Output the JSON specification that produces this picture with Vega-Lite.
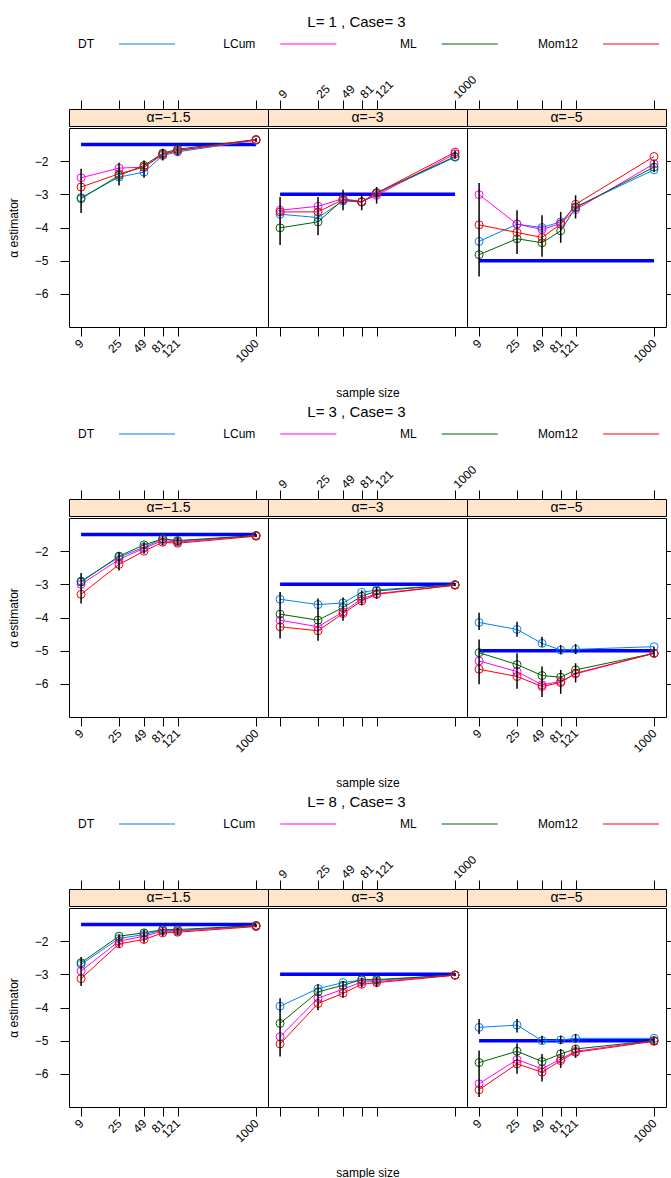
{
"$schema": "https://vega.github.io/schema/vega-lite/v6.json",
"padding": {"left": 6, "top": 15, "right": 0, "bottom": 0},
"background": "white",
"config": {
 "font": "Liberation Sans",
 "view": {"stroke": "#000", "strokeWidth": 1},
 "axis": {"labelFontSize": 12, "labelColor": "#000", "tickColor": "#000", "tickSize": 9, "titleFontSize": 12, "titleFontWeight": "normal", "titleColor": "#000", "grid": false, "domain": false, "labelFont": "Liberation Sans", "titleFont": "Liberation Sans", "labelOverlap": false, "labelFlush": false},
 "text": {"font": "Liberation Sans", "fontSize": 12, "color": "#000"},
 "title": {"font": "Liberation Sans", "fontSize": 15, "fontWeight": "normal", "color": "#000"}
},
"datasets": {
 "ns": [{"n":9},{"n":25},{"n":49},{"n":81},{"n":121},{"n":1000}],
 "leg": [{"m":"DT"},{"m":"LCum"},{"m":"ML"},{"m":"Mom12"}],
 "t": [{"a":-1.5,"n1":9,"n2":1000},{"a":-3,"n1":9,"n2":1000},{"a":-5,"n1":9,"n2":1000}],
 "d": [
{"b":1,"a":-1.5,"m":"DT","n":9,"v":-3.10},{"b":1,"a":-1.5,"m":"DT","n":25,"v":-2.48},{"b":1,"a":-1.5,"m":"DT","n":49,"v":-2.33},{"b":1,"a":-1.5,"m":"DT","n":81,"v":-1.83},{"b":1,"a":-1.5,"m":"DT","n":121,"v":-1.72},{"b":1,"a":-1.5,"m":"DT","n":1000,"v":-1.37},
{"b":1,"a":-1.5,"m":"LCum","n":9,"v":-2.50},{"b":1,"a":-1.5,"m":"LCum","n":25,"v":-2.21},{"b":1,"a":-1.5,"m":"LCum","n":49,"v":-2.18},{"b":1,"a":-1.5,"m":"LCum","n":81,"v":-1.78},{"b":1,"a":-1.5,"m":"LCum","n":121,"v":-1.68},{"b":1,"a":-1.5,"m":"LCum","n":1000,"v":-1.36},
{"b":1,"a":-1.5,"m":"ML","n":9,"v":-3.13},{"b":1,"a":-1.5,"m":"ML","n":25,"v":-2.43},{"b":1,"a":-1.5,"m":"ML","n":49,"v":-2.13},{"b":1,"a":-1.5,"m":"ML","n":81,"v":-1.76},{"b":1,"a":-1.5,"m":"ML","n":121,"v":-1.64},{"b":1,"a":-1.5,"m":"ML","n":1000,"v":-1.35},
{"b":1,"a":-1.5,"m":"Mom12","n":9,"v":-2.78},{"b":1,"a":-1.5,"m":"Mom12","n":25,"v":-2.38},{"b":1,"a":-1.5,"m":"Mom12","n":49,"v":-2.18},{"b":1,"a":-1.5,"m":"Mom12","n":81,"v":-1.80},{"b":1,"a":-1.5,"m":"Mom12","n":121,"v":-1.68},{"b":1,"a":-1.5,"m":"Mom12","n":1000,"v":-1.35},
{"b":1,"a":-3,"m":"DT","n":9,"v":-3.60},{"b":1,"a":-3,"m":"DT","n":25,"v":-3.70},{"b":1,"a":-3,"m":"DT","n":49,"v":-3.20},{"b":1,"a":-3,"m":"DT","n":81,"v":-3.23},{"b":1,"a":-3,"m":"DT","n":121,"v":-2.98},{"b":1,"a":-3,"m":"DT","n":1000,"v":-1.88},
{"b":1,"a":-3,"m":"LCum","n":9,"v":-3.48},{"b":1,"a":-3,"m":"LCum","n":25,"v":-3.36},{"b":1,"a":-3,"m":"LCum","n":49,"v":-3.13},{"b":1,"a":-3,"m":"LCum","n":81,"v":-3.22},{"b":1,"a":-3,"m":"LCum","n":121,"v":-3.03},{"b":1,"a":-3,"m":"LCum","n":1000,"v":-1.78},
{"b":1,"a":-3,"m":"ML","n":9,"v":-4.01},{"b":1,"a":-3,"m":"ML","n":25,"v":-3.83},{"b":1,"a":-3,"m":"ML","n":49,"v":-3.16},{"b":1,"a":-3,"m":"ML","n":81,"v":-3.23},{"b":1,"a":-3,"m":"ML","n":121,"v":-2.95},{"b":1,"a":-3,"m":"ML","n":1000,"v":-1.86},
{"b":1,"a":-3,"m":"Mom12","n":9,"v":-3.53},{"b":1,"a":-3,"m":"Mom12","n":25,"v":-3.53},{"b":1,"a":-3,"m":"Mom12","n":49,"v":-3.16},{"b":1,"a":-3,"m":"Mom12","n":81,"v":-3.23},{"b":1,"a":-3,"m":"Mom12","n":121,"v":-2.96},{"b":1,"a":-3,"m":"Mom12","n":1000,"v":-1.73},
{"b":1,"a":-5,"m":"DT","n":9,"v":-4.42},{"b":1,"a":-5,"m":"DT","n":25,"v":-3.90},{"b":1,"a":-5,"m":"DT","n":49,"v":-4.00},{"b":1,"a":-5,"m":"DT","n":81,"v":-3.83},{"b":1,"a":-5,"m":"DT","n":121,"v":-3.38},{"b":1,"a":-5,"m":"DT","n":1000,"v":-2.26},
{"b":1,"a":-5,"m":"LCum","n":9,"v":-3.01},{"b":1,"a":-5,"m":"LCum","n":25,"v":-3.90},{"b":1,"a":-5,"m":"LCum","n":49,"v":-4.06},{"b":1,"a":-5,"m":"LCum","n":81,"v":-3.88},{"b":1,"a":-5,"m":"LCum","n":121,"v":-3.46},{"b":1,"a":-5,"m":"LCum","n":1000,"v":-2.08},
{"b":1,"a":-5,"m":"ML","n":9,"v":-4.82},{"b":1,"a":-5,"m":"ML","n":25,"v":-4.34},{"b":1,"a":-5,"m":"ML","n":49,"v":-4.46},{"b":1,"a":-5,"m":"ML","n":81,"v":-4.10},{"b":1,"a":-5,"m":"ML","n":121,"v":-3.40},{"b":1,"a":-5,"m":"ML","n":1000,"v":-2.18},
{"b":1,"a":-5,"m":"Mom12","n":9,"v":-3.92},{"b":1,"a":-5,"m":"Mom12","n":25,"v":-4.15},{"b":1,"a":-5,"m":"Mom12","n":49,"v":-4.30},{"b":1,"a":-5,"m":"Mom12","n":81,"v":-3.90},{"b":1,"a":-5,"m":"Mom12","n":121,"v":-3.30},{"b":1,"a":-5,"m":"Mom12","n":1000,"v":-1.86},
{"b":2,"a":-1.5,"m":"DT","n":9,"v":-2.90},{"b":2,"a":-1.5,"m":"DT","n":25,"v":-2.18},{"b":2,"a":-1.5,"m":"DT","n":49,"v":-1.88},{"b":2,"a":-1.5,"m":"DT","n":81,"v":-1.63},{"b":2,"a":-1.5,"m":"DT","n":121,"v":-1.70},{"b":2,"a":-1.5,"m":"DT","n":1000,"v":-1.53},
{"b":2,"a":-1.5,"m":"LCum","n":9,"v":-3.00},{"b":2,"a":-1.5,"m":"LCum","n":25,"v":-2.25},{"b":2,"a":-1.5,"m":"LCum","n":49,"v":-1.91},{"b":2,"a":-1.5,"m":"LCum","n":81,"v":-1.68},{"b":2,"a":-1.5,"m":"LCum","n":121,"v":-1.73},{"b":2,"a":-1.5,"m":"LCum","n":1000,"v":-1.53},
{"b":2,"a":-1.5,"m":"ML","n":9,"v":-2.93},{"b":2,"a":-1.5,"m":"ML","n":25,"v":-2.15},{"b":2,"a":-1.5,"m":"ML","n":49,"v":-1.81},{"b":2,"a":-1.5,"m":"ML","n":81,"v":-1.63},{"b":2,"a":-1.5,"m":"ML","n":121,"v":-1.68},{"b":2,"a":-1.5,"m":"ML","n":1000,"v":-1.53},
{"b":2,"a":-1.5,"m":"Mom12","n":9,"v":-3.30},{"b":2,"a":-1.5,"m":"Mom12","n":25,"v":-2.40},{"b":2,"a":-1.5,"m":"Mom12","n":49,"v":-2.00},{"b":2,"a":-1.5,"m":"Mom12","n":81,"v":-1.73},{"b":2,"a":-1.5,"m":"Mom12","n":121,"v":-1.76},{"b":2,"a":-1.5,"m":"Mom12","n":1000,"v":-1.55},
{"b":2,"a":-3,"m":"DT","n":9,"v":-3.45},{"b":2,"a":-3,"m":"DT","n":25,"v":-3.61},{"b":2,"a":-3,"m":"DT","n":49,"v":-3.56},{"b":2,"a":-3,"m":"DT","n":81,"v":-3.24},{"b":2,"a":-3,"m":"DT","n":121,"v":-3.17},{"b":2,"a":-3,"m":"DT","n":1000,"v":-3.01},
{"b":2,"a":-3,"m":"LCum","n":9,"v":-4.08},{"b":2,"a":-3,"m":"LCum","n":25,"v":-4.28},{"b":2,"a":-3,"m":"LCum","n":49,"v":-3.83},{"b":2,"a":-3,"m":"LCum","n":81,"v":-3.44},{"b":2,"a":-3,"m":"LCum","n":121,"v":-3.28},{"b":2,"a":-3,"m":"LCum","n":1000,"v":-3.02},
{"b":2,"a":-3,"m":"ML","n":9,"v":-3.90},{"b":2,"a":-3,"m":"ML","n":25,"v":-4.08},{"b":2,"a":-3,"m":"ML","n":49,"v":-3.70},{"b":2,"a":-3,"m":"ML","n":81,"v":-3.36},{"b":2,"a":-3,"m":"ML","n":121,"v":-3.20},{"b":2,"a":-3,"m":"ML","n":1000,"v":-3.01},
{"b":2,"a":-3,"m":"Mom12","n":9,"v":-4.28},{"b":2,"a":-3,"m":"Mom12","n":25,"v":-4.40},{"b":2,"a":-3,"m":"Mom12","n":49,"v":-3.88},{"b":2,"a":-3,"m":"Mom12","n":81,"v":-3.50},{"b":2,"a":-3,"m":"Mom12","n":121,"v":-3.30},{"b":2,"a":-3,"m":"Mom12","n":1000,"v":-3.03},
{"b":2,"a":-5,"m":"DT","n":9,"v":-4.15},{"b":2,"a":-5,"m":"DT","n":25,"v":-4.36},{"b":2,"a":-5,"m":"DT","n":49,"v":-4.78},{"b":2,"a":-5,"m":"DT","n":81,"v":-4.98},{"b":2,"a":-5,"m":"DT","n":121,"v":-4.96},{"b":2,"a":-5,"m":"DT","n":1000,"v":-4.88},
{"b":2,"a":-5,"m":"LCum","n":9,"v":-5.31},{"b":2,"a":-5,"m":"LCum","n":25,"v":-5.63},{"b":2,"a":-5,"m":"LCum","n":49,"v":-6.03},{"b":2,"a":-5,"m":"LCum","n":81,"v":-5.93},{"b":2,"a":-5,"m":"LCum","n":121,"v":-5.70},{"b":2,"a":-5,"m":"LCum","n":1000,"v":-5.08},
{"b":2,"a":-5,"m":"ML","n":9,"v":-5.06},{"b":2,"a":-5,"m":"ML","n":25,"v":-5.42},{"b":2,"a":-5,"m":"ML","n":49,"v":-5.75},{"b":2,"a":-5,"m":"ML","n":81,"v":-5.80},{"b":2,"a":-5,"m":"ML","n":121,"v":-5.58},{"b":2,"a":-5,"m":"ML","n":1000,"v":-5.08},
{"b":2,"a":-5,"m":"Mom12","n":9,"v":-5.56},{"b":2,"a":-5,"m":"Mom12","n":25,"v":-5.78},{"b":2,"a":-5,"m":"Mom12","n":49,"v":-6.08},{"b":2,"a":-5,"m":"Mom12","n":81,"v":-5.96},{"b":2,"a":-5,"m":"Mom12","n":121,"v":-5.68},{"b":2,"a":-5,"m":"Mom12","n":1000,"v":-5.08},
{"b":3,"a":-1.5,"m":"DT","n":9,"v":-2.70},{"b":3,"a":-1.5,"m":"DT","n":25,"v":-1.92},{"b":3,"a":-1.5,"m":"DT","n":49,"v":-1.80},{"b":3,"a":-1.5,"m":"DT","n":81,"v":-1.67},{"b":3,"a":-1.5,"m":"DT","n":121,"v":-1.68},{"b":3,"a":-1.5,"m":"DT","n":1000,"v":-1.53},
{"b":3,"a":-1.5,"m":"LCum","n":9,"v":-2.90},{"b":3,"a":-1.5,"m":"LCum","n":25,"v":-2.00},{"b":3,"a":-1.5,"m":"LCum","n":49,"v":-1.85},{"b":3,"a":-1.5,"m":"LCum","n":81,"v":-1.70},{"b":3,"a":-1.5,"m":"LCum","n":121,"v":-1.70},{"b":3,"a":-1.5,"m":"LCum","n":1000,"v":-1.54},
{"b":3,"a":-1.5,"m":"ML","n":9,"v":-2.65},{"b":3,"a":-1.5,"m":"ML","n":25,"v":-1.85},{"b":3,"a":-1.5,"m":"ML","n":49,"v":-1.75},{"b":3,"a":-1.5,"m":"ML","n":81,"v":-1.65},{"b":3,"a":-1.5,"m":"ML","n":121,"v":-1.65},{"b":3,"a":-1.5,"m":"ML","n":1000,"v":-1.53},
{"b":3,"a":-1.5,"m":"Mom12","n":9,"v":-3.13},{"b":3,"a":-1.5,"m":"Mom12","n":25,"v":-2.08},{"b":3,"a":-1.5,"m":"Mom12","n":49,"v":-1.95},{"b":3,"a":-1.5,"m":"Mom12","n":81,"v":-1.75},{"b":3,"a":-1.5,"m":"Mom12","n":121,"v":-1.73},{"b":3,"a":-1.5,"m":"Mom12","n":1000,"v":-1.56},
{"b":3,"a":-3,"m":"DT","n":9,"v":-3.96},{"b":3,"a":-3,"m":"DT","n":25,"v":-3.43},{"b":3,"a":-3,"m":"DT","n":49,"v":-3.25},{"b":3,"a":-3,"m":"DT","n":81,"v":-3.17},{"b":3,"a":-3,"m":"DT","n":121,"v":-3.18},{"b":3,"a":-3,"m":"DT","n":1000,"v":-3.02},
{"b":3,"a":-3,"m":"LCum","n":9,"v":-4.88},{"b":3,"a":-3,"m":"LCum","n":25,"v":-3.72},{"b":3,"a":-3,"m":"LCum","n":49,"v":-3.45},{"b":3,"a":-3,"m":"LCum","n":81,"v":-3.23},{"b":3,"a":-3,"m":"LCum","n":121,"v":-3.22},{"b":3,"a":-3,"m":"LCum","n":1000,"v":-3.02},
{"b":3,"a":-3,"m":"ML","n":9,"v":-4.48},{"b":3,"a":-3,"m":"ML","n":25,"v":-3.53},{"b":3,"a":-3,"m":"ML","n":49,"v":-3.33},{"b":3,"a":-3,"m":"ML","n":81,"v":-3.16},{"b":3,"a":-3,"m":"ML","n":121,"v":-3.16},{"b":3,"a":-3,"m":"ML","n":1000,"v":-3.02},
{"b":3,"a":-3,"m":"Mom12","n":9,"v":-5.10},{"b":3,"a":-3,"m":"Mom12","n":25,"v":-3.88},{"b":3,"a":-3,"m":"Mom12","n":49,"v":-3.57},{"b":3,"a":-3,"m":"Mom12","n":81,"v":-3.30},{"b":3,"a":-3,"m":"Mom12","n":121,"v":-3.25},{"b":3,"a":-3,"m":"Mom12","n":1000,"v":-3.03},
{"b":3,"a":-5,"m":"DT","n":9,"v":-4.60},{"b":3,"a":-5,"m":"DT","n":25,"v":-4.53},{"b":3,"a":-5,"m":"DT","n":49,"v":-5.00},{"b":3,"a":-5,"m":"DT","n":81,"v":-4.98},{"b":3,"a":-5,"m":"DT","n":121,"v":-4.93},{"b":3,"a":-5,"m":"DT","n":1000,"v":-4.93},
{"b":3,"a":-5,"m":"LCum","n":9,"v":-6.30},{"b":3,"a":-5,"m":"LCum","n":25,"v":-5.57},{"b":3,"a":-5,"m":"LCum","n":49,"v":-5.85},{"b":3,"a":-5,"m":"LCum","n":81,"v":-5.55},{"b":3,"a":-5,"m":"LCum","n":121,"v":-5.32},{"b":3,"a":-5,"m":"LCum","n":1000,"v":-5.00},
{"b":3,"a":-5,"m":"ML","n":9,"v":-5.66},{"b":3,"a":-5,"m":"ML","n":25,"v":-5.32},{"b":3,"a":-5,"m":"ML","n":49,"v":-5.63},{"b":3,"a":-5,"m":"ML","n":81,"v":-5.40},{"b":3,"a":-5,"m":"ML","n":121,"v":-5.25},{"b":3,"a":-5,"m":"ML","n":1000,"v":-5.00},
{"b":3,"a":-5,"m":"Mom12","n":9,"v":-6.48},{"b":3,"a":-5,"m":"Mom12","n":25,"v":-5.70},{"b":3,"a":-5,"m":"Mom12","n":49,"v":-5.95},{"b":3,"a":-5,"m":"Mom12","n":81,"v":-5.60},{"b":3,"a":-5,"m":"Mom12","n":121,"v":-5.35},{"b":3,"a":-5,"m":"Mom12","n":1000,"v":-5.02}
 ],
 "e": [
{"b":1,"a":-1.5,"n":9,"lo":-3.56,"hi":-2.23},{"b":1,"a":-1.5,"n":25,"lo":-2.73,"hi":-2.05},{"b":1,"a":-1.5,"n":49,"lo":-2.50,"hi":-1.98},{"b":1,"a":-1.5,"n":81,"lo":-1.98,"hi":-1.63},{"b":1,"a":-1.5,"n":121,"lo":-1.83,"hi":-1.53},{"b":1,"a":-1.5,"n":1000,"lo":-1.42,"hi":-1.30},
{"b":1,"a":-3,"n":9,"lo":-4.53,"hi":-3.08},{"b":1,"a":-3,"n":25,"lo":-4.23,"hi":-3.08},{"b":1,"a":-3,"n":49,"lo":-3.48,"hi":-2.86},{"b":1,"a":-3,"n":81,"lo":-3.48,"hi":-2.98},{"b":1,"a":-3,"n":121,"lo":-3.28,"hi":-2.78},{"b":1,"a":-3,"n":1000,"lo":-1.93,"hi":-1.68},
{"b":1,"a":-5,"n":9,"lo":-5.48,"hi":-2.66},{"b":1,"a":-5,"n":25,"lo":-4.80,"hi":-3.48},{"b":1,"a":-5,"n":49,"lo":-4.88,"hi":-3.63},{"b":1,"a":-5,"n":81,"lo":-4.46,"hi":-3.53},{"b":1,"a":-5,"n":121,"lo":-3.73,"hi":-3.03},{"b":1,"a":-5,"n":1000,"lo":-2.33,"hi":-1.98},
{"b":2,"a":-1.5,"n":9,"lo":-3.58,"hi":-2.66},{"b":2,"a":-1.5,"n":25,"lo":-2.58,"hi":-2.03},{"b":2,"a":-1.5,"n":49,"lo":-2.08,"hi":-1.73},{"b":2,"a":-1.5,"n":81,"lo":-1.83,"hi":-1.53},{"b":2,"a":-1.5,"n":121,"lo":-1.83,"hi":-1.58},{"b":2,"a":-1.5,"n":1000,"lo":-1.58,"hi":-1.48},
{"b":2,"a":-3,"n":9,"lo":-4.63,"hi":-3.23},{"b":2,"a":-3,"n":25,"lo":-4.70,"hi":-3.43},{"b":2,"a":-3,"n":49,"lo":-4.10,"hi":-3.40},{"b":2,"a":-3,"n":81,"lo":-3.63,"hi":-3.18},{"b":2,"a":-3,"n":121,"lo":-3.43,"hi":-3.08},{"b":2,"a":-3,"n":1000,"lo":-3.06,"hi":-2.96},
{"b":2,"a":-5,"n":9,"lo":-4.38,"hi":-3.86},{"b":2,"a":-5,"n":9,"lo":-6.01,"hi":-4.66},{"b":2,"a":-5,"n":25,"lo":-4.58,"hi":-4.13},{"b":2,"a":-5,"n":25,"lo":-6.15,"hi":-5.08},{"b":2,"a":-5,"n":49,"lo":-4.88,"hi":-4.58},{"b":2,"a":-5,"n":49,"lo":-6.40,"hi":-5.48},{"b":2,"a":-5,"n":81,"lo":-5.11,"hi":-4.83},{"b":2,"a":-5,"n":81,"lo":-6.30,"hi":-5.58},{"b":2,"a":-5,"n":121,"lo":-5.10,"hi":-4.80},{"b":2,"a":-5,"n":121,"lo":-5.96,"hi":-5.38},{"b":2,"a":-5,"n":1000,"lo":-5.18,"hi":-4.88},
{"b":3,"a":-1.5,"n":9,"lo":-3.35,"hi":-2.48},{"b":3,"a":-1.5,"n":25,"lo":-2.20,"hi":-1.80},{"b":3,"a":-1.5,"n":49,"lo":-2.05,"hi":-1.65},{"b":3,"a":-1.5,"n":81,"lo":-1.85,"hi":-1.58},{"b":3,"a":-1.5,"n":121,"lo":-1.82,"hi":-1.60},{"b":3,"a":-1.5,"n":1000,"lo":-1.58,"hi":-1.48},
{"b":3,"a":-3,"n":9,"lo":-5.48,"hi":-3.72},{"b":3,"a":-3,"n":25,"lo":-4.08,"hi":-3.30},{"b":3,"a":-3,"n":49,"lo":-3.70,"hi":-3.20},{"b":3,"a":-3,"n":81,"lo":-3.40,"hi":-3.10},{"b":3,"a":-3,"n":121,"lo":-3.38,"hi":-3.08},{"b":3,"a":-3,"n":1000,"lo":-3.06,"hi":-2.96},
{"b":3,"a":-5,"n":9,"lo":-4.80,"hi":-4.35},{"b":3,"a":-5,"n":9,"lo":-6.70,"hi":-5.30},{"b":3,"a":-5,"n":25,"lo":-4.75,"hi":-4.35},{"b":3,"a":-5,"n":25,"lo":-6.00,"hi":-5.08},{"b":3,"a":-5,"n":49,"lo":-5.10,"hi":-4.85},{"b":3,"a":-5,"n":49,"lo":-6.23,"hi":-5.40},{"b":3,"a":-5,"n":81,"lo":-5.10,"hi":-4.85},{"b":3,"a":-5,"n":81,"lo":-5.82,"hi":-5.25},{"b":3,"a":-5,"n":121,"lo":-5.05,"hi":-4.80},{"b":3,"a":-5,"n":121,"lo":-5.52,"hi":-5.13},{"b":3,"a":-5,"n":1000,"lo":-5.12,"hi":-4.90}
 ]
},
"spacing": 6,
"vconcat": [
{"spacing": 18, "vconcat": [
 {"title": {"text": "L= 1 , Case= 3", "anchor": "middle", "dx": -11, "offset": 4},
  "width": 597, "height": 20, "view": {"stroke": null}, "data": {"name": "leg"},
  "layer": [
   {"mark": {"type": "tick", "orient": "horizontal", "size": 56, "thickness": 1, "opacity": 1},
    "encoding": {"x": {"field": "m", "type": "nominal", "scale": {"type": "point", "range": [78, 562], "padding": 0}, "axis": null},
     "color": {"field": "m", "type": "nominal", "scale": {"domain": ["DT","LCum","ML","Mom12"], "range": ["#0080ff","#ff00ff","#006400","#ff0000"]}, "legend": null}}},
   {"mark": {"type": "text", "align": "right", "dx": -53, "fontSize": 12, "color": "#000"},
    "encoding": {"x": {"field": "m", "type": "nominal"}, "text": {"field": "m"}}}
  ]},
 {"spacing": 0, "vconcat": [
  {"hconcat": [
   {"width": 199, "height": 17, "view": {"fill": "#ffe5cc", "stroke": "#000"}, "layer": [
    {"data": {"name": "ns"}, "mark": {"type": "point", "opacity": 0}, "encoding": {"x": {"field": "n", "type": "quantitative", "scale": {"type": "log", "domain": [6.5, 1380], "nice": false}, "axis": {"orient": "top", "values": [9,25,49,81,121,1000], "labels": false, "title": null}}}},
    {"data": {"values": [{"lab": "α=−1.5"}]}, "mark": {"type": "text", "fontSize": 14, "color": "#000"}, "encoding": {"text": {"field": "lab"}}}]},
   {"width": 199, "height": 17, "view": {"fill": "#ffe5cc", "stroke": "#000"}, "layer": [
    {"data": {"name": "ns"}, "mark": {"type": "point", "opacity": 0}, "encoding": {"x": {"field": "n", "type": "quantitative", "scale": {"type": "log", "domain": [6.5, 1380], "nice": false}, "axis": {"orient": "top", "values": [9,25,49,81,121,1000], "format": "d", "labelAngle": -45, "labelAlign": "left", "labelBaseline": "middle", "labelPadding": 4, "labelOverlap": false, "title": null}}}},
    {"data": {"values": [{"lab": "α=−3"}]}, "mark": {"type": "text", "fontSize": 14, "color": "#000"}, "encoding": {"text": {"field": "lab"}}}]},
   {"width": 199, "height": 17, "view": {"fill": "#ffe5cc", "stroke": "#000"}, "layer": [
    {"data": {"name": "ns"}, "mark": {"type": "point", "opacity": 0}, "encoding": {"x": {"field": "n", "type": "quantitative", "scale": {"type": "log", "domain": [6.5, 1380], "nice": false}, "axis": {"orient": "top", "values": [9,25,49,81,121,1000], "labels": false, "title": null}}}},
    {"data": {"values": [{"lab": "α=−5"}]}, "mark": {"type": "text", "fontSize": 14, "color": "#000"}, "encoding": {"text": {"field": "lab"}}}]}
  ], "spacing": 0, "bounds": "flush"},
  {"hconcat": [
   {"width": 199, "height": 199, "layer": [
    {"data": {"name": "t"}, "transform": [{"filter": "datum.a==-1.5"}], "mark": {"type": "rule", "color": "#0000ff", "strokeWidth": 3.5},
     "encoding": {"x": {"field": "n1", "type": "quantitative", "scale": {"type": "log", "domain": [6.5, 1380], "nice": false}, "axis": {"orient": "bottom", "values": [9,25,49,81,121,1000], "format": "d", "labelAngle": -45, "labelAlign": "right", "labelBaseline": "middle", "labelPadding": 5, "labelOverlap": false, "title": null}}, "x2": {"field": "n2"},
      "y": {"field": "a", "type": "quantitative", "scale": {"domain": [-7, -1], "nice": false, "zero": false}, "axis": {"orient": "left", "values": [-2,-3,-4,-5,-6], "labelOverlap": false, "labelPadding": 12, "title": "α estimator", "titlePadding": 14}}}},
    {"data": {"name": "d"}, "transform": [{"filter": "datum.b==1 && datum.a==-1.5"}], "mark": {"type": "line", "strokeWidth": 1},
     "encoding": {"x": {"field": "n", "type": "quantitative"}, "y": {"field": "v", "type": "quantitative"}, "color": {"field": "m", "type": "nominal", "scale": {"domain": ["DT","LCum","ML","Mom12"], "range": ["#0080ff","#ff00ff","#006400","#ff0000"]}, "legend": null}}},
    {"data": {"name": "d"}, "transform": [{"filter": "datum.b==1 && datum.a==-1.5"}], "mark": {"type": "point", "shape": "circle", "filled": false, "size": 64, "strokeWidth": 1, "opacity": 1},
     "encoding": {"x": {"field": "n", "type": "quantitative"}, "y": {"field": "v", "type": "quantitative"}, "color": {"field": "m", "type": "nominal", "legend": null}}},
    {"data": {"name": "e"}, "transform": [{"filter": "datum.b==1 && datum.a==-1.5"}], "mark": {"type": "rule", "color": "#000", "strokeWidth": 1.5},
     "encoding": {"x": {"field": "n", "type": "quantitative"}, "y": {"field": "lo", "type": "quantitative"}, "y2": {"field": "hi"}}}]},
   {"width": 199, "height": 199, "layer": [
    {"data": {"name": "t"}, "transform": [{"filter": "datum.a==-3"}], "mark": {"type": "rule", "color": "#0000ff", "strokeWidth": 3.5},
     "encoding": {"x": {"field": "n1", "type": "quantitative", "scale": {"type": "log", "domain": [6.5, 1380], "nice": false}, "axis": {"orient": "bottom", "values": [9,25,49,81,121,1000], "labels": false, "title": "sample size", "titlePadding": 51}}, "x2": {"field": "n2"},
      "y": {"field": "a", "type": "quantitative", "scale": {"domain": [-7, -1], "nice": false, "zero": false}, "axis": null}}},
    {"data": {"name": "d"}, "transform": [{"filter": "datum.b==1 && datum.a==-3"}], "mark": {"type": "line", "strokeWidth": 1},
     "encoding": {"x": {"field": "n", "type": "quantitative"}, "y": {"field": "v", "type": "quantitative"}, "color": {"field": "m", "type": "nominal", "scale": {"domain": ["DT","LCum","ML","Mom12"], "range": ["#0080ff","#ff00ff","#006400","#ff0000"]}, "legend": null}}},
    {"data": {"name": "d"}, "transform": [{"filter": "datum.b==1 && datum.a==-3"}], "mark": {"type": "point", "shape": "circle", "filled": false, "size": 64, "strokeWidth": 1, "opacity": 1},
     "encoding": {"x": {"field": "n", "type": "quantitative"}, "y": {"field": "v", "type": "quantitative"}, "color": {"field": "m", "type": "nominal", "legend": null}}},
    {"data": {"name": "e"}, "transform": [{"filter": "datum.b==1 && datum.a==-3"}], "mark": {"type": "rule", "color": "#000", "strokeWidth": 1.5},
     "encoding": {"x": {"field": "n", "type": "quantitative"}, "y": {"field": "lo", "type": "quantitative"}, "y2": {"field": "hi"}}}]},
   {"width": 199, "height": 199, "layer": [
    {"data": {"name": "t"}, "transform": [{"filter": "datum.a==-5"}], "mark": {"type": "rule", "color": "#0000ff", "strokeWidth": 3.5},
     "encoding": {"x": {"field": "n1", "type": "quantitative", "scale": {"type": "log", "domain": [6.5, 1380], "nice": false}, "axis": {"orient": "bottom", "values": [9,25,49,81,121,1000], "format": "d", "labelAngle": -45, "labelAlign": "right", "labelBaseline": "middle", "labelPadding": 5, "labelOverlap": false, "title": null}}, "x2": {"field": "n2"},
      "y": {"field": "a", "type": "quantitative", "scale": {"domain": [-7, -1], "nice": false, "zero": false}, "axis": {"orient": "right", "values": [-2,-3,-4,-5,-6], "labels": false, "title": null}}}},
    {"data": {"name": "d"}, "transform": [{"filter": "datum.b==1 && datum.a==-5"}], "mark": {"type": "line", "strokeWidth": 1},
     "encoding": {"x": {"field": "n", "type": "quantitative"}, "y": {"field": "v", "type": "quantitative"}, "color": {"field": "m", "type": "nominal", "scale": {"domain": ["DT","LCum","ML","Mom12"], "range": ["#0080ff","#ff00ff","#006400","#ff0000"]}, "legend": null}}},
    {"data": {"name": "d"}, "transform": [{"filter": "datum.b==1 && datum.a==-5"}], "mark": {"type": "point", "shape": "circle", "filled": false, "size": 64, "strokeWidth": 1, "opacity": 1},
     "encoding": {"x": {"field": "n", "type": "quantitative"}, "y": {"field": "v", "type": "quantitative"}, "color": {"field": "m", "type": "nominal", "legend": null}}},
    {"data": {"name": "e"}, "transform": [{"filter": "datum.b==1 && datum.a==-5"}], "mark": {"type": "rule", "color": "#000", "strokeWidth": 1.5},
     "encoding": {"x": {"field": "n", "type": "quantitative"}, "y": {"field": "lo", "type": "quantitative"}, "y2": {"field": "hi"}}}]}
  ], "spacing": 0, "bounds": "flush"}
 ]}
]},
{"spacing": 18, "vconcat": [
 {"title": {"text": "L= 3 , Case= 3", "anchor": "middle", "dx": -11, "offset": 4},
  "width": 597, "height": 20, "view": {"stroke": null}, "data": {"name": "leg"},
  "layer": [
   {"mark": {"type": "tick", "orient": "horizontal", "size": 56, "thickness": 1, "opacity": 1},
    "encoding": {"x": {"field": "m", "type": "nominal", "scale": {"type": "point", "range": [78, 562], "padding": 0}, "axis": null},
     "color": {"field": "m", "type": "nominal", "scale": {"domain": ["DT","LCum","ML","Mom12"], "range": ["#0080ff","#ff00ff","#006400","#ff0000"]}, "legend": null}}},
   {"mark": {"type": "text", "align": "right", "dx": -53, "fontSize": 12, "color": "#000"},
    "encoding": {"x": {"field": "m", "type": "nominal"}, "text": {"field": "m"}}}
  ]},
 {"spacing": 0, "vconcat": [
  {"hconcat": [
   {"width": 199, "height": 17, "view": {"fill": "#ffe5cc", "stroke": "#000"}, "layer": [
    {"data": {"name": "ns"}, "mark": {"type": "point", "opacity": 0}, "encoding": {"x": {"field": "n", "type": "quantitative", "scale": {"type": "log", "domain": [6.5, 1380], "nice": false}, "axis": {"orient": "top", "values": [9,25,49,81,121,1000], "labels": false, "title": null}}}},
    {"data": {"values": [{"lab": "α=−1.5"}]}, "mark": {"type": "text", "fontSize": 14, "color": "#000"}, "encoding": {"text": {"field": "lab"}}}]},
   {"width": 199, "height": 17, "view": {"fill": "#ffe5cc", "stroke": "#000"}, "layer": [
    {"data": {"name": "ns"}, "mark": {"type": "point", "opacity": 0}, "encoding": {"x": {"field": "n", "type": "quantitative", "scale": {"type": "log", "domain": [6.5, 1380], "nice": false}, "axis": {"orient": "top", "values": [9,25,49,81,121,1000], "format": "d", "labelAngle": -45, "labelAlign": "left", "labelBaseline": "middle", "labelPadding": 4, "labelOverlap": false, "title": null}}}},
    {"data": {"values": [{"lab": "α=−3"}]}, "mark": {"type": "text", "fontSize": 14, "color": "#000"}, "encoding": {"text": {"field": "lab"}}}]},
   {"width": 199, "height": 17, "view": {"fill": "#ffe5cc", "stroke": "#000"}, "layer": [
    {"data": {"name": "ns"}, "mark": {"type": "point", "opacity": 0}, "encoding": {"x": {"field": "n", "type": "quantitative", "scale": {"type": "log", "domain": [6.5, 1380], "nice": false}, "axis": {"orient": "top", "values": [9,25,49,81,121,1000], "labels": false, "title": null}}}},
    {"data": {"values": [{"lab": "α=−5"}]}, "mark": {"type": "text", "fontSize": 14, "color": "#000"}, "encoding": {"text": {"field": "lab"}}}]}
  ], "spacing": 0, "bounds": "flush"},
  {"hconcat": [
   {"width": 199, "height": 199, "layer": [
    {"data": {"name": "t"}, "transform": [{"filter": "datum.a==-1.5"}], "mark": {"type": "rule", "color": "#0000ff", "strokeWidth": 3.5},
     "encoding": {"x": {"field": "n1", "type": "quantitative", "scale": {"type": "log", "domain": [6.5, 1380], "nice": false}, "axis": {"orient": "bottom", "values": [9,25,49,81,121,1000], "format": "d", "labelAngle": -45, "labelAlign": "right", "labelBaseline": "middle", "labelPadding": 5, "labelOverlap": false, "title": null}}, "x2": {"field": "n2"},
      "y": {"field": "a", "type": "quantitative", "scale": {"domain": [-7, -1], "nice": false, "zero": false}, "axis": {"orient": "left", "values": [-2,-3,-4,-5,-6], "labelOverlap": false, "labelPadding": 12, "title": "α estimator", "titlePadding": 14}}}},
    {"data": {"name": "d"}, "transform": [{"filter": "datum.b==2 && datum.a==-1.5"}], "mark": {"type": "line", "strokeWidth": 1},
     "encoding": {"x": {"field": "n", "type": "quantitative"}, "y": {"field": "v", "type": "quantitative"}, "color": {"field": "m", "type": "nominal", "scale": {"domain": ["DT","LCum","ML","Mom12"], "range": ["#0080ff","#ff00ff","#006400","#ff0000"]}, "legend": null}}},
    {"data": {"name": "d"}, "transform": [{"filter": "datum.b==2 && datum.a==-1.5"}], "mark": {"type": "point", "shape": "circle", "filled": false, "size": 64, "strokeWidth": 1, "opacity": 1},
     "encoding": {"x": {"field": "n", "type": "quantitative"}, "y": {"field": "v", "type": "quantitative"}, "color": {"field": "m", "type": "nominal", "legend": null}}},
    {"data": {"name": "e"}, "transform": [{"filter": "datum.b==2 && datum.a==-1.5"}], "mark": {"type": "rule", "color": "#000", "strokeWidth": 1.5},
     "encoding": {"x": {"field": "n", "type": "quantitative"}, "y": {"field": "lo", "type": "quantitative"}, "y2": {"field": "hi"}}}]},
   {"width": 199, "height": 199, "layer": [
    {"data": {"name": "t"}, "transform": [{"filter": "datum.a==-3"}], "mark": {"type": "rule", "color": "#0000ff", "strokeWidth": 3.5},
     "encoding": {"x": {"field": "n1", "type": "quantitative", "scale": {"type": "log", "domain": [6.5, 1380], "nice": false}, "axis": {"orient": "bottom", "values": [9,25,49,81,121,1000], "labels": false, "title": "sample size", "titlePadding": 51}}, "x2": {"field": "n2"},
      "y": {"field": "a", "type": "quantitative", "scale": {"domain": [-7, -1], "nice": false, "zero": false}, "axis": null}}},
    {"data": {"name": "d"}, "transform": [{"filter": "datum.b==2 && datum.a==-3"}], "mark": {"type": "line", "strokeWidth": 1},
     "encoding": {"x": {"field": "n", "type": "quantitative"}, "y": {"field": "v", "type": "quantitative"}, "color": {"field": "m", "type": "nominal", "scale": {"domain": ["DT","LCum","ML","Mom12"], "range": ["#0080ff","#ff00ff","#006400","#ff0000"]}, "legend": null}}},
    {"data": {"name": "d"}, "transform": [{"filter": "datum.b==2 && datum.a==-3"}], "mark": {"type": "point", "shape": "circle", "filled": false, "size": 64, "strokeWidth": 1, "opacity": 1},
     "encoding": {"x": {"field": "n", "type": "quantitative"}, "y": {"field": "v", "type": "quantitative"}, "color": {"field": "m", "type": "nominal", "legend": null}}},
    {"data": {"name": "e"}, "transform": [{"filter": "datum.b==2 && datum.a==-3"}], "mark": {"type": "rule", "color": "#000", "strokeWidth": 1.5},
     "encoding": {"x": {"field": "n", "type": "quantitative"}, "y": {"field": "lo", "type": "quantitative"}, "y2": {"field": "hi"}}}]},
   {"width": 199, "height": 199, "layer": [
    {"data": {"name": "t"}, "transform": [{"filter": "datum.a==-5"}], "mark": {"type": "rule", "color": "#0000ff", "strokeWidth": 3.5},
     "encoding": {"x": {"field": "n1", "type": "quantitative", "scale": {"type": "log", "domain": [6.5, 1380], "nice": false}, "axis": {"orient": "bottom", "values": [9,25,49,81,121,1000], "format": "d", "labelAngle": -45, "labelAlign": "right", "labelBaseline": "middle", "labelPadding": 5, "labelOverlap": false, "title": null}}, "x2": {"field": "n2"},
      "y": {"field": "a", "type": "quantitative", "scale": {"domain": [-7, -1], "nice": false, "zero": false}, "axis": {"orient": "right", "values": [-2,-3,-4,-5,-6], "labels": false, "title": null}}}},
    {"data": {"name": "d"}, "transform": [{"filter": "datum.b==2 && datum.a==-5"}], "mark": {"type": "line", "strokeWidth": 1},
     "encoding": {"x": {"field": "n", "type": "quantitative"}, "y": {"field": "v", "type": "quantitative"}, "color": {"field": "m", "type": "nominal", "scale": {"domain": ["DT","LCum","ML","Mom12"], "range": ["#0080ff","#ff00ff","#006400","#ff0000"]}, "legend": null}}},
    {"data": {"name": "d"}, "transform": [{"filter": "datum.b==2 && datum.a==-5"}], "mark": {"type": "point", "shape": "circle", "filled": false, "size": 64, "strokeWidth": 1, "opacity": 1},
     "encoding": {"x": {"field": "n", "type": "quantitative"}, "y": {"field": "v", "type": "quantitative"}, "color": {"field": "m", "type": "nominal", "legend": null}}},
    {"data": {"name": "e"}, "transform": [{"filter": "datum.b==2 && datum.a==-5"}], "mark": {"type": "rule", "color": "#000", "strokeWidth": 1.5},
     "encoding": {"x": {"field": "n", "type": "quantitative"}, "y": {"field": "lo", "type": "quantitative"}, "y2": {"field": "hi"}}}]}
  ], "spacing": 0, "bounds": "flush"}
 ]}
]},
{"spacing": 18, "vconcat": [
 {"title": {"text": "L= 8 , Case= 3", "anchor": "middle", "dx": -11, "offset": 4},
  "width": 597, "height": 20, "view": {"stroke": null}, "data": {"name": "leg"},
  "layer": [
   {"mark": {"type": "tick", "orient": "horizontal", "size": 56, "thickness": 1, "opacity": 1},
    "encoding": {"x": {"field": "m", "type": "nominal", "scale": {"type": "point", "range": [78, 562], "padding": 0}, "axis": null},
     "color": {"field": "m", "type": "nominal", "scale": {"domain": ["DT","LCum","ML","Mom12"], "range": ["#0080ff","#ff00ff","#006400","#ff0000"]}, "legend": null}}},
   {"mark": {"type": "text", "align": "right", "dx": -53, "fontSize": 12, "color": "#000"},
    "encoding": {"x": {"field": "m", "type": "nominal"}, "text": {"field": "m"}}}
  ]},
 {"spacing": 0, "vconcat": [
  {"hconcat": [
   {"width": 199, "height": 17, "view": {"fill": "#ffe5cc", "stroke": "#000"}, "layer": [
    {"data": {"name": "ns"}, "mark": {"type": "point", "opacity": 0}, "encoding": {"x": {"field": "n", "type": "quantitative", "scale": {"type": "log", "domain": [6.5, 1380], "nice": false}, "axis": {"orient": "top", "values": [9,25,49,81,121,1000], "labels": false, "title": null}}}},
    {"data": {"values": [{"lab": "α=−1.5"}]}, "mark": {"type": "text", "fontSize": 14, "color": "#000"}, "encoding": {"text": {"field": "lab"}}}]},
   {"width": 199, "height": 17, "view": {"fill": "#ffe5cc", "stroke": "#000"}, "layer": [
    {"data": {"name": "ns"}, "mark": {"type": "point", "opacity": 0}, "encoding": {"x": {"field": "n", "type": "quantitative", "scale": {"type": "log", "domain": [6.5, 1380], "nice": false}, "axis": {"orient": "top", "values": [9,25,49,81,121,1000], "format": "d", "labelAngle": -45, "labelAlign": "left", "labelBaseline": "middle", "labelPadding": 4, "labelOverlap": false, "title": null}}}},
    {"data": {"values": [{"lab": "α=−3"}]}, "mark": {"type": "text", "fontSize": 14, "color": "#000"}, "encoding": {"text": {"field": "lab"}}}]},
   {"width": 199, "height": 17, "view": {"fill": "#ffe5cc", "stroke": "#000"}, "layer": [
    {"data": {"name": "ns"}, "mark": {"type": "point", "opacity": 0}, "encoding": {"x": {"field": "n", "type": "quantitative", "scale": {"type": "log", "domain": [6.5, 1380], "nice": false}, "axis": {"orient": "top", "values": [9,25,49,81,121,1000], "labels": false, "title": null}}}},
    {"data": {"values": [{"lab": "α=−5"}]}, "mark": {"type": "text", "fontSize": 14, "color": "#000"}, "encoding": {"text": {"field": "lab"}}}]}
  ], "spacing": 0, "bounds": "flush"},
  {"hconcat": [
   {"width": 199, "height": 199, "layer": [
    {"data": {"name": "t"}, "transform": [{"filter": "datum.a==-1.5"}], "mark": {"type": "rule", "color": "#0000ff", "strokeWidth": 3.5},
     "encoding": {"x": {"field": "n1", "type": "quantitative", "scale": {"type": "log", "domain": [6.5, 1380], "nice": false}, "axis": {"orient": "bottom", "values": [9,25,49,81,121,1000], "format": "d", "labelAngle": -45, "labelAlign": "right", "labelBaseline": "middle", "labelPadding": 5, "labelOverlap": false, "title": null}}, "x2": {"field": "n2"},
      "y": {"field": "a", "type": "quantitative", "scale": {"domain": [-7, -1], "nice": false, "zero": false}, "axis": {"orient": "left", "values": [-2,-3,-4,-5,-6], "labelOverlap": false, "labelPadding": 12, "title": "α estimator", "titlePadding": 14}}}},
    {"data": {"name": "d"}, "transform": [{"filter": "datum.b==3 && datum.a==-1.5"}], "mark": {"type": "line", "strokeWidth": 1},
     "encoding": {"x": {"field": "n", "type": "quantitative"}, "y": {"field": "v", "type": "quantitative"}, "color": {"field": "m", "type": "nominal", "scale": {"domain": ["DT","LCum","ML","Mom12"], "range": ["#0080ff","#ff00ff","#006400","#ff0000"]}, "legend": null}}},
    {"data": {"name": "d"}, "transform": [{"filter": "datum.b==3 && datum.a==-1.5"}], "mark": {"type": "point", "shape": "circle", "filled": false, "size": 64, "strokeWidth": 1, "opacity": 1},
     "encoding": {"x": {"field": "n", "type": "quantitative"}, "y": {"field": "v", "type": "quantitative"}, "color": {"field": "m", "type": "nominal", "legend": null}}},
    {"data": {"name": "e"}, "transform": [{"filter": "datum.b==3 && datum.a==-1.5"}], "mark": {"type": "rule", "color": "#000", "strokeWidth": 1.5},
     "encoding": {"x": {"field": "n", "type": "quantitative"}, "y": {"field": "lo", "type": "quantitative"}, "y2": {"field": "hi"}}}]},
   {"width": 199, "height": 199, "layer": [
    {"data": {"name": "t"}, "transform": [{"filter": "datum.a==-3"}], "mark": {"type": "rule", "color": "#0000ff", "strokeWidth": 3.5},
     "encoding": {"x": {"field": "n1", "type": "quantitative", "scale": {"type": "log", "domain": [6.5, 1380], "nice": false}, "axis": {"orient": "bottom", "values": [9,25,49,81,121,1000], "labels": false, "title": "sample size", "titlePadding": 51}}, "x2": {"field": "n2"},
      "y": {"field": "a", "type": "quantitative", "scale": {"domain": [-7, -1], "nice": false, "zero": false}, "axis": null}}},
    {"data": {"name": "d"}, "transform": [{"filter": "datum.b==3 && datum.a==-3"}], "mark": {"type": "line", "strokeWidth": 1},
     "encoding": {"x": {"field": "n", "type": "quantitative"}, "y": {"field": "v", "type": "quantitative"}, "color": {"field": "m", "type": "nominal", "scale": {"domain": ["DT","LCum","ML","Mom12"], "range": ["#0080ff","#ff00ff","#006400","#ff0000"]}, "legend": null}}},
    {"data": {"name": "d"}, "transform": [{"filter": "datum.b==3 && datum.a==-3"}], "mark": {"type": "point", "shape": "circle", "filled": false, "size": 64, "strokeWidth": 1, "opacity": 1},
     "encoding": {"x": {"field": "n", "type": "quantitative"}, "y": {"field": "v", "type": "quantitative"}, "color": {"field": "m", "type": "nominal", "legend": null}}},
    {"data": {"name": "e"}, "transform": [{"filter": "datum.b==3 && datum.a==-3"}], "mark": {"type": "rule", "color": "#000", "strokeWidth": 1.5},
     "encoding": {"x": {"field": "n", "type": "quantitative"}, "y": {"field": "lo", "type": "quantitative"}, "y2": {"field": "hi"}}}]},
   {"width": 199, "height": 199, "layer": [
    {"data": {"name": "t"}, "transform": [{"filter": "datum.a==-5"}], "mark": {"type": "rule", "color": "#0000ff", "strokeWidth": 3.5},
     "encoding": {"x": {"field": "n1", "type": "quantitative", "scale": {"type": "log", "domain": [6.5, 1380], "nice": false}, "axis": {"orient": "bottom", "values": [9,25,49,81,121,1000], "format": "d", "labelAngle": -45, "labelAlign": "right", "labelBaseline": "middle", "labelPadding": 5, "labelOverlap": false, "title": null}}, "x2": {"field": "n2"},
      "y": {"field": "a", "type": "quantitative", "scale": {"domain": [-7, -1], "nice": false, "zero": false}, "axis": {"orient": "right", "values": [-2,-3,-4,-5,-6], "labels": false, "title": null}}}},
    {"data": {"name": "d"}, "transform": [{"filter": "datum.b==3 && datum.a==-5"}], "mark": {"type": "line", "strokeWidth": 1},
     "encoding": {"x": {"field": "n", "type": "quantitative"}, "y": {"field": "v", "type": "quantitative"}, "color": {"field": "m", "type": "nominal", "scale": {"domain": ["DT","LCum","ML","Mom12"], "range": ["#0080ff","#ff00ff","#006400","#ff0000"]}, "legend": null}}},
    {"data": {"name": "d"}, "transform": [{"filter": "datum.b==3 && datum.a==-5"}], "mark": {"type": "point", "shape": "circle", "filled": false, "size": 64, "strokeWidth": 1, "opacity": 1},
     "encoding": {"x": {"field": "n", "type": "quantitative"}, "y": {"field": "v", "type": "quantitative"}, "color": {"field": "m", "type": "nominal", "legend": null}}},
    {"data": {"name": "e"}, "transform": [{"filter": "datum.b==3 && datum.a==-5"}], "mark": {"type": "rule", "color": "#000", "strokeWidth": 1.5},
     "encoding": {"x": {"field": "n", "type": "quantitative"}, "y": {"field": "lo", "type": "quantitative"}, "y2": {"field": "hi"}}}]}
  ], "spacing": 0, "bounds": "flush"}
 ]}
]}
]
}
